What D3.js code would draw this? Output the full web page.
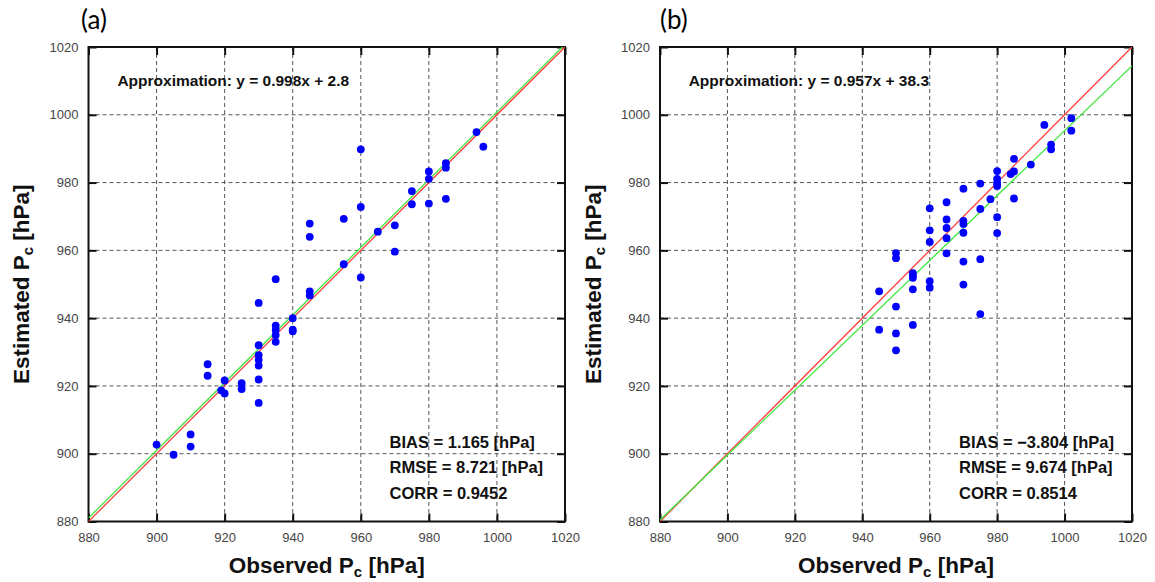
<!DOCTYPE html>
<html>
<head>
<meta charset="utf-8">
<script src="https://cdn.jsdelivr.net/npm/d3@7"></script>
<style>
  html, body { margin: 0; padding: 0; background: #fff; }
  svg { display: block; }
</style>
</head>
<body>
<svg id="chart" width="1155" height="582"></svg>
<script>
// Panel (a): observed vs estimated central pressure
const obsA = [900, 905, 910, 910, 915, 915, 920, 919, 920, 925, 925,
  930, 930, 930, 930, 930, 930, 930, 935, 935, 935, 935, 935,
  940, 940, 940, 945, 945, 945, 945, 955, 955, 960, 960, 960,
  965, 970, 970, 975, 975, 980, 980, 980, 985, 985, 985, 994, 996];
const estA = [902.7, 899.7, 905.7, 902.1, 926.4, 923.0, 921.6, 918.7, 917.8, 920.8, 919.1,
  932.0, 929.1, 927.7, 926.0, 921.9, 915.0, 944.5, 951.5, 937.8, 936.5, 935.0, 933.0,
  940.0, 936.6, 936.1, 967.9, 964.0, 947.9, 946.7, 969.3, 955.9, 989.8, 972.8, 952.0,
  965.5, 967.4, 959.6, 977.5, 973.6, 983.3, 981.1, 973.8, 985.7, 984.4, 975.2, 994.9, 990.6];

// Panel (b)
const obsB = [945, 945, 950, 950, 950, 950, 950, 955, 955, 955, 955, 955,
  960, 960, 960, 960, 960, 965, 965, 965, 965, 965,
  970, 970, 970, 970, 970, 970, 975, 975, 975, 975, 978,
  980, 980, 980, 980, 980, 980, 984, 985, 985, 985, 990, 994, 996, 996, 1002, 1002];
const estB = [947.9, 936.6, 959.2, 957.7, 943.4, 935.5, 930.5, 953.3, 952.6, 951.9, 948.5, 938.0,
  972.4, 965.9, 962.5, 950.9, 949.0, 974.2, 969.1, 966.6, 963.6, 959.1,
  978.2, 968.7, 967.8, 965.2, 956.7, 949.9, 979.7, 972.2, 957.4, 941.2, 975.1,
  983.4, 981.1, 979.9, 979.0, 969.8, 965.1, 982.5, 983.3, 987.0, 975.3, 985.3, 997.0, 991.2, 989.8, 999.0, 995.3];

const axisTicks = [880, 900, 920, 940, 960, 980, 1000, 1020];
const panelLabels = ["(a)", "(b)"];
const fitSlope = [0.998, 0.957];
const fitIntercept = [2.8, 38.3];
const fitText = ["Approximation: y = 0.998x + 2.8", "Approximation: y = 0.957x + 38.3"];
const statsA = ["BIAS = 1.165 [hPa]", "RMSE = 8.721 [hPa]", "CORR = 0.9452"];
const statsB = ["BIAS = \u22123.804 [hPa]", "RMSE = 9.674 [hPa]", "CORR = 0.8514"];

const panels = [
  { obs: obsA, est: estA, label: panelLabels[0], slope: fitSlope[0], icpt: fitIntercept[0], fit: fitText[0], stats: statsA,
    left: 88.5, right: 565, top: 47, bottom: 521.5, tagX: 81, statX: 389.5 },
  { obs: obsB, est: estB, label: panelLabels[1], slope: fitSlope[1], icpt: fitIntercept[1], fit: fitText[1], stats: statsB,
    left: 660, right: 1132, top: 47, bottom: 521.5, tagX: 660, statX: 959 }
];

const svg = d3.select("#chart");
const sans = "'Liberation Sans', Arial, Helvetica, sans-serif";
const fmt = d3.format("d");

panels.forEach((p, i) => {
  const x = d3.scaleLinear().domain([880, 1020]).range([p.left, p.right]);
  const y = d3.scaleLinear().domain([880, 1020]).range([p.bottom, p.top]);
  const w = p.right - p.left, h = p.bottom - p.top;
  const g = svg.append("g");

  const clipId = "clip" + i;
  g.append("clipPath").attr("id", clipId)
    .append("rect").attr("x", p.left).attr("y", p.top).attr("width", w).attr("height", h);

  // dashed grid
  const inner = axisTicks.slice(1, -1);
  g.append("g").selectAll("line").data(inner).join("line")
    .attr("x1", d => x(d)).attr("x2", d => x(d)).attr("y1", p.top).attr("y2", p.bottom)
    .attr("stroke", "#555").attr("stroke-width", 1).attr("stroke-dasharray", "4,3");
  g.append("g").selectAll("line").data(inner).join("line")
    .attr("y1", d => y(d)).attr("y2", d => y(d)).attr("x1", p.left).attr("x2", p.right)
    .attr("stroke", "#555").attr("stroke-width", 1).attr("stroke-dasharray", "4,3");

  // axes with inward tick marks on all four sides
  const tl = 8;
  const ax = [
    [d3.axisBottom(x).tickValues(axisTicks).tickFormat(fmt).tickSize(-tl).tickPadding(11), `translate(0,${p.bottom})`, true],
    [d3.axisTop(x).tickValues(axisTicks).tickSize(-tl), `translate(0,${p.top})`, false],
    [d3.axisLeft(y).tickValues(axisTicks).tickFormat(fmt).tickSize(-tl).tickPadding(10), `translate(${p.left},0)`, true],
    [d3.axisRight(y).tickValues(axisTicks).tickSize(-tl), `translate(${p.right},0)`, false]
  ];
  ax.forEach(([a, tr, showLabels]) => {
    const ag = g.append("g").attr("transform", tr).call(a);
    ag.select(".domain").remove();
    ag.selectAll(".tick line").attr("stroke", "#111").attr("stroke-width", 2);
    if (showLabels) {
      ag.selectAll(".tick text").attr("font-family", sans).attr("font-size", 13).attr("fill", "#444");
    } else {
      ag.selectAll(".tick text").remove();
    }
  });

  // frame
  g.append("rect").attr("x", p.left).attr("y", p.top).attr("width", w).attr("height", h)
    .attr("fill", "none").attr("stroke", "#111").attr("stroke-width", 2);

  const lines = g.append("g").attr("clip-path", `url(#${clipId})`);
  // 1:1 reference line
  lines.append("line")
    .attr("x1", x(880)).attr("y1", y(880)).attr("x2", x(1020)).attr("y2", y(1020))
    .attr("stroke", "#ff3b3b").attr("stroke-width", 1.3);
  // fitted regression line
  lines.append("line")
    .attr("x1", x(880)).attr("y1", y(p.slope * 880 + p.icpt))
    .attr("x2", x(1020)).attr("y2", y(p.slope * 1020 + p.icpt))
    .attr("stroke", "#3fe83f").attr("stroke-width", 1.3);

  // points
  g.append("g").selectAll("circle").data(p.obs.map((o, k) => [o, p.est[k]])).join("circle")
    .attr("cx", d => x(d[0])).attr("cy", d => y(d[1])).attr("r", 3.9)
    .attr("fill", "#0000ff");

  // annotations
  g.append("text").attr("x", x(888.5)).attr("y", p.top + 38.5)
    .attr("font-family", sans).attr("font-weight", "bold").attr("font-size", 15.5)
    .attr("fill", "#111").text(p.fit);
  g.selectAll(".stat").data(p.stats).join("text")
    .attr("x", p.statX).attr("y", (d, k) => 447.5 + k * 25.5)
    .attr("font-family", sans).attr("font-weight", "bold").attr("font-size", 16.5)
    .attr("fill", "#111").text(d => d);

  // panel tag
  g.append("text").attr("x", p.tagX).attr("y", 29)
    .attr("font-family", "Lato, 'Open Sans', sans-serif").attr("font-size", 26)
    .attr("fill", "#000").text(p.label);

  // axis titles with subscript
  const xt = g.append("text").attr("x", (p.left + p.right) / 2).attr("y", 573)
    .attr("text-anchor", "middle").attr("font-family", sans).attr("font-weight", "bold")
    .attr("font-size", 22.5).attr("fill", "#111");
  xt.append("tspan").text("Observed P");
  xt.append("tspan").attr("font-size", 15).attr("dy", 4).text("c");
  xt.append("tspan").attr("dy", -4).text(" [hPa]");

  const yt = g.append("text")
    .attr("transform", `translate(${p.left - 59.5},${(p.top + p.bottom) / 2}) rotate(-90)`)
    .attr("text-anchor", "middle").attr("font-family", sans).attr("font-weight", "bold")
    .attr("font-size", 22.5).attr("fill", "#111");
  yt.append("tspan").text("Estimated P");
  yt.append("tspan").attr("font-size", 15).attr("dy", 4).text("c");
  yt.append("tspan").attr("dy", -4).text(" [hPa]");
});
</script>
</body>
</html>
